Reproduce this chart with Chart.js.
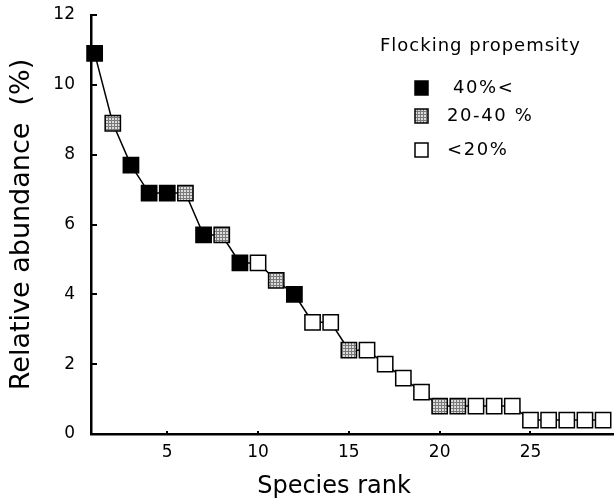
<!DOCTYPE html>
<html><head><meta charset="utf-8">
<script src="https://cdn.jsdelivr.net/npm/chart.js@4.4.1/dist/chart.umd.min.js"></script>
<style>html,body{margin:0;padding:0;background:#fff;overflow:hidden}canvas{display:block}</style>
</head><body>
<canvas id="c" width="614" height="498"></canvas>
<script>
// ---- data ----
const ranks = [1,2,3,4,5,6,7,8,9,10,11,12,13,14,15,16,17,18,19,20,21,22,23,24,25,26,27,28,29];
const abundance = [10.9,8.9,7.7,6.9,6.9,6.9,5.7,5.7,4.9,4.9,4.4,4.0,3.2,3.2,2.4,2.4,2.0,1.6,1.2,0.8,0.8,0.8,0.8,0.8,0.4,0.4,0.4,0.4,0.4];
// flocking propensity class of each species: 0 = 40%<, 1 = 20-40 %, 2 = <20%
const propensity = [0,1,0,0,0,1,0,1,0,2,1,0,2,2,1,2,2,2,2,1,1,2,2,2,2,2,2,2,2];
const classNames = ['40%<','20-40 %','<20%'];
const legendTitle = 'Flocking propemsity';
const xTicks = [5,10,15,20,25];
const yTicks = [0,2,4,6,8,10,12];
const xTitle = 'Species rank';
const yTitle = 'Relative abundance  (%)';

// ---- styles ----
const FONT = 'DejaVu Sans';
function makePattern(){
  const c = document.createElement('canvas'); c.width = 3; c.height = 3;
  const g = c.getContext('2d');
  g.fillStyle = '#dcdcdc'; g.fillRect(0,0,3,3);
  g.fillStyle = '#7a7a7a'; g.fillRect(0,0,3,1); g.fillRect(0,0,1,3);
  return g.createPattern(c,'repeat');
}
const ctx = document.getElementById('c').getContext('2d');
const classFill = ['#000000', makePattern(), '#ffffff'];

const tickMarks = {
  id:'tickMarks',
  afterDatasetsDraw(chart){
    const {ctx, scales:{x,y}, chartArea:a} = chart;
    ctx.save(); ctx.strokeStyle = '#000'; ctx.lineWidth = 2;
    yTicks.forEach(v => { if (v===0) return; const p = Math.round(y.getPixelForValue(v)); ctx.beginPath(); ctx.moveTo(a.left, p); ctx.lineTo(a.left+6, p); ctx.stroke(); });
    xTicks.forEach(v => { const p = Math.round(x.getPixelForValue(v)); ctx.beginPath(); ctx.moveTo(p, a.bottom); ctx.lineTo(p, a.bottom-3); ctx.stroke(); });
    ctx.restore();
  }
};
const extraText = {
  id:'extraText',
  afterDraw(chart){
    const c = chart.ctx; c.save();
    c.fillStyle = '#000'; c.textBaseline = 'middle'; c.textAlign = 'left';
    // legend
    c.font = '18px "' + FONT + '"';
    c.letterSpacing = '1px';
    c.fillText(legendTitle, 380, 46);
    const ys = [88, 116, 150];
    c.letterSpacing = '1.6px';
    classNames.forEach((name,i) => {
      c.fillStyle = classFill[i]; c.strokeStyle = '#000'; c.lineWidth = 1.5;
      c.fillRect(415, ys[i]-7, 13, 14); c.strokeRect(415, ys[i]-7, 13, 14);
      c.fillStyle = '#000';
      c.fillText(name, i===0 ? 453 : 447, ys[i]);
    });
    // x axis title
    c.letterSpacing = '0px';
    c.textAlign = 'center';
    c.font = '24px "' + FONT + '"';
    c.fillText(xTitle, 334, 487);
    c.restore();
  }
};

Chart.defaults.font.family = FONT;
Chart.defaults.color = '#000';

new Chart(ctx, {
  type:'line',
  data:{ datasets:[{
    label:'Relative abundance',
    data: ranks.map((r,i) => ({x:r, y:abundance[i]})),
    borderColor:'#000', borderWidth:1.5, tension:0,
    pointStyle:'rect', pointRadius:10.8, pointHoverRadius:10.8,
    pointBorderColor:'#000', pointBorderWidth:1.5,
    pointBackgroundColor: propensity.map(k => classFill[k]),
    clip:false
  }]},
  options:{
    responsive:false, animation:false, events:[],
    layout:{autoPadding:false, padding:{top:15,left:0,right:0,bottom:0}},
    plugins:{legend:{display:false}, tooltip:{enabled:false}},
    scales:{
      x:{type:'linear', min:0.8, max:29.6,
         afterBuildTicks: s => { s.ticks = xTicks.map(v => ({value:v})); },
         afterFit: s => { s.height = 64; s.paddingLeft = 0; s.paddingRight = 0; },
         grid:{display:false, drawTicks:false},
         border:{display:true, color:'#000', width:2.5},
         ticks:{padding:8, font:{size:17}, maxRotation:0, autoSkip:false},
         title:{display:false, text:xTitle}
      },
      y:{type:'linear', min:0, max:12,
         afterBuildTicks: s => { s.ticks = yTicks.map(v => ({value:v})); },
         afterFit: s => { s.width = 91; s.paddingTop = 0; s.paddingBottom = 0; },
         grid:{display:false, drawTicks:false},
         border:{display:true, color:'#000', width:2.5},
         ticks:{padding:16, font:{size:17}, autoSkip:false},
         title:{display:true, text:yTitle, font:{size:27}, padding:{top:6,bottom:0}}
      }
    }
  },
  plugins:[tickMarks, extraText]
});
</script>
</body></html>
